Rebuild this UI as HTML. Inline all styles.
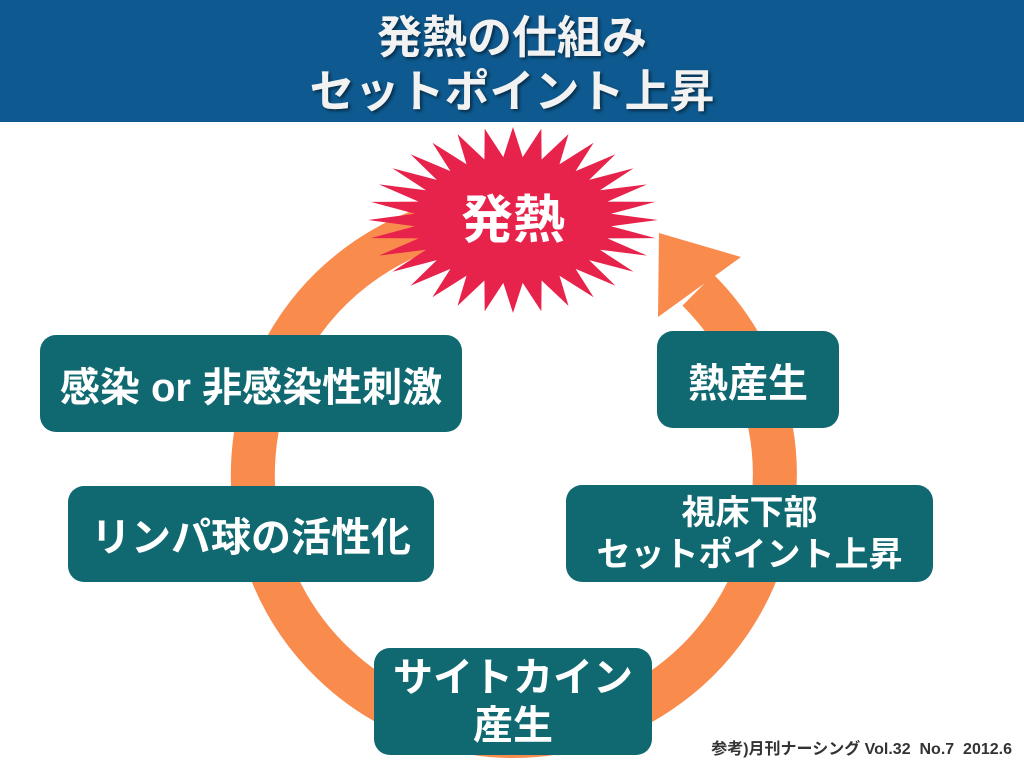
<!DOCTYPE html>
<html><head><meta charset="utf-8">
<style>
body{margin:0;width:1024px;height:768px;overflow:hidden;background:#fff;font-family:"Liberation Sans","Noto Sans CJK JP",sans-serif;}
.hdr{position:absolute;left:0;top:0;width:1024px;height:122px;background:#0e5a90;}
.hdr div{position:absolute;left:0;width:1024px;text-align:center;color:#f2f2f2;font-weight:bold;font-size:45px;line-height:50px;text-shadow:2px 2px 3px rgba(0,0,0,.5);}
.box{position:absolute;background:#106971;border-radius:16px;color:#fff;font-weight:bold;display:flex;align-items:center;justify-content:center;text-align:center;white-space:nowrap;}
.foot{position:absolute;right:12px;top:735px;font-size:16px;font-weight:bold;color:#333;}
</style></head><body>
<div class="hdr"><div style="top:13px">発熱の仕組み</div><div style="top:67px">セットポイント上昇</div></div>
<svg width="1024" height="768" style="position:absolute;left:0;top:0">
<path d="M468,218 A261,261 0 1 0 698,290" fill="none" stroke="#f98b4c" stroke-width="44"/>
<polygon points="659,233 741,257 658,317" fill="#f98b4c"/>
<polygon id="star" fill="#e8234b"/>
<text x="513" y="238" text-anchor="middle" font-size="52" font-weight="bold" fill="#fff" font-family="Liberation Sans, Noto Sans CJK JP, sans-serif">発熱</text>
</svg>
<script>
var p=[],n=32,cx=513,cy=220;
for(var i=0;i<2*n;i++){var a=Math.PI*i/n-Math.PI/2;var r=i%2?0.68:1;p.push((cx+145*r*Math.cos(a)).toFixed(1)+','+(cy+93*r*Math.sin(a)).toFixed(1));}
document.getElementById('star').setAttribute('points',p.join(' '));
</script>
<div class="box" style="left:40px;top:335px;width:422px;height:97px;font-size:40px">感染 or 非感染性刺激</div>
<div class="box" style="left:68px;top:486px;width:366px;height:96px;font-size:40px">リンパ球の活性化</div>
<div class="box" style="left:374px;top:648px;width:278px;height:107px;font-size:40px;line-height:48px">サイトカイン<br>産生</div>
<div class="box" style="left:657px;top:331px;width:182px;height:97px;font-size:40px">熱産生</div>
<div class="box" style="left:566px;top:485px;width:367px;height:97px;font-size:34px;line-height:42px">視床下部<br>セットポイント上昇</div>
<div class="foot">参考)月刊ナーシング Vol.32&nbsp; No.7&nbsp; 2012.6</div>
</body></html>
